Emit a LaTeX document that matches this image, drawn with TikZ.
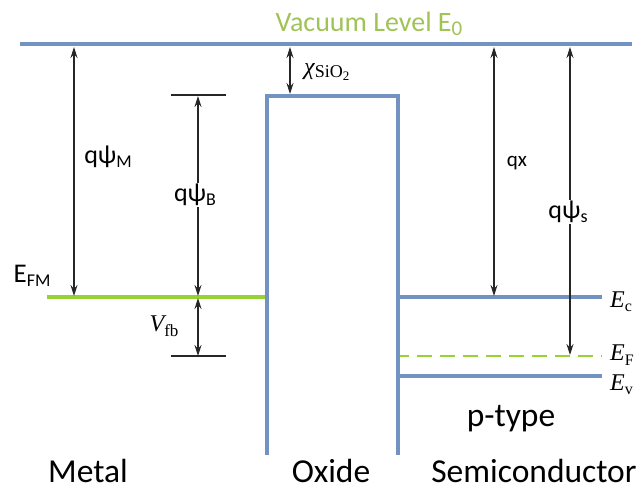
\documentclass[tikz,border=0pt]{standalone}
\usepackage{fontspec}
\setmainfont{Carlito}
\newfontfamily\tnr{Liberation Serif}
\usetikzlibrary{arrows.meta}
\definecolor{bandblue}{RGB}{114,146,194}
\definecolor{fermigreen}{RGB}{150,210,50}
\definecolor{vacgreen}{RGB}{160,195,85}
\tikzset{
  band/.style={line width=4pt, draw=bandblue},
  dimarrow/.style={line width=1.2pt, draw=black!85, {Stealth[length=11pt,width=7pt]}-{Stealth[length=11pt,width=7pt]}},
  tickline/.style={line width=1.2pt, draw=black!85},
  sanslbl/.style={font=\fontsize{26}{28}\selectfont, inner sep=1pt},
  biglbl/.style={font=\fontsize{33.5}{36}\selectfont, inner sep=0pt, anchor=base},
  seriflbl/.style={font=\tnr\fontsize{24}{26}\selectfont, inner sep=0pt}
}
\newcommand{\sbs}[1]{\raisebox{-0.35ex}{\fontsize{18}{18}\selectfont #1}}
\begin{document}
\begin{tikzpicture}[x=1pt,y=-1pt]
\useasboundingbox (0,0) rectangle (642,489);
% coordinates
\coordinate (vacL) at (20,44);
\coordinate (vacR) at (632,44);
\coordinate (oxBL) at (267,455);
\coordinate (oxTL) at (267,96);
\coordinate (oxTR) at (398,96);
\coordinate (oxBR) at (398,455);
\coordinate (efmL) at (47,297);
\coordinate (efmR) at (265,297);
\coordinate (ecL) at (400,297);
\coordinate (ecR) at (602,297);
\coordinate (efL) at (400,356);
\coordinate (efR) at (602,356);
\coordinate (evL) at (400,376);
\coordinate (evR) at (602,376);
% arrow ends
\coordinate (chiT) at (290,47);
\coordinate (chiB) at (290,94);
\coordinate (psiMT) at (74,47);
\coordinate (psiMB) at (74,296);
\coordinate (psiBT) at (198,96);
\coordinate (psiBB) at (198,296);
\coordinate (vfbT) at (198,298);
\coordinate (vfbB) at (198,356);
\coordinate (tickBL) at (171,95);
\coordinate (tickBR) at (226,95);
\coordinate (tickVL) at (171,356);
\coordinate (tickVR) at (226,356);
\coordinate (qxT) at (494,47);
\coordinate (qxB) at (494,296);
\coordinate (psiST) at (570,47);
\coordinate (psiSB) at (570,355);

% bands
\draw[band] (vacL) -- (vacR);
\draw[band] (oxBL) -- (oxTL) -- (oxTR) -- (oxBR);
\draw[line width=4pt, draw=fermigreen] (efmL) -- (efmR);
\draw[band] (ecL) -- (ecR);
\draw[band] (evL) -- (evR);
\draw[line width=2pt, draw=fermigreen, dash pattern=on 15pt off 8pt, dash phase=6pt] (efL) -- (efR);

% ticks
\draw[tickline] (tickBL) -- (tickBR);
\draw[tickline] (tickVL) -- (tickVR);

% arrows
\draw[dimarrow] (chiT) -- (chiB);
\draw[dimarrow] (psiMT) -- (psiMB);
\draw[dimarrow] (psiBT) -- (psiBB);
\draw[dimarrow] (vfbT) -- (vfbB);
\draw[dimarrow] (qxT) -- (qxB);
\draw[dimarrow] (psiST) -- (psiSB);

% labels
\node[sanslbl, font=\fontsize{28}{30}\selectfont, text=vacgreen, inner sep=0pt, anchor=base] (vac) at (369,32) {Vacuum Level E\raisebox{-0.25ex}{\fontsize{21}{21}\selectfont 0}};
\node[seriflbl, anchor=west] (chi) at (304,72) {\itshape χ\upshape\fontsize{18}{18}\selectfont\raisebox{-0.3ex}{SiO\raisebox{-0.4ex}{\fontsize{13}{13}\selectfont 2}}};
\node[sanslbl] (lpsiM) at (108,157) {qψ\sbs{M}};
\node[sanslbl, fill=white] (lpsiB) at (195,195) {qψ\sbs{B}};
\node[sanslbl, font=\fontsize{27}{29}\selectfont] (lefm) at (32,276) {E\sbs{FM}};
\node[seriflbl] (lvfb) at (164,326) {\itshape V\upshape\raisebox{-0.45ex}{\fontsize{17}{17}\selectfont fb}};
\node[sanslbl, font=\fontsize{21}{24}\selectfont] (lqx) at (517,163) {qx};
\node[sanslbl, fill=white] (lpsiS) at (568,212) {qψ\sbs{s}};
\node[seriflbl, anchor=west] (lec) at (610,302) {\itshape E\upshape\raisebox{-0.4ex}{\fontsize{16}{16}\selectfont c}};
\node[seriflbl, anchor=west] (lef) at (610,355) {\itshape E\upshape\raisebox{-0.4ex}{\fontsize{16}{16}\selectfont F}};
\node[seriflbl, anchor=west] (lev) at (610,385) {\itshape E\upshape\raisebox{-0.4ex}{\fontsize{16}{16}\selectfont v}};
\node[biglbl] (ptype) at (511,426) {p-type};
\node[biglbl] (metal) at (88,482) {Metal};
\node[biglbl] (oxide) at (331,482) {Oxide};
\node[biglbl] (semi) at (534,482) {Semiconductor};
\end{tikzpicture}
\end{document}
